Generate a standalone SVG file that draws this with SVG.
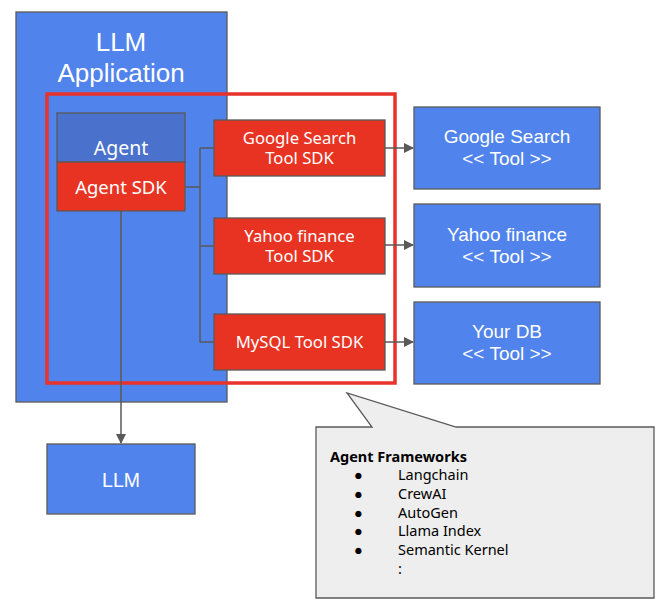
<svg xmlns="http://www.w3.org/2000/svg" width="666" height="614" viewBox="0 0 666 614">
<defs>
<style>
.blue{fill:#5083eb;stroke:#595959;stroke-width:1.3}
.agent{fill:#4a72cd;stroke:#595959;stroke-width:1.3}
.red{fill:#e83323;stroke:#595959;stroke-width:1.3}
.wa{font-family:"Liberation Sans",Arial,sans-serif;fill:#ffffff;text-anchor:middle}
.wn{font-family:"Noto Sans","Open Sans",sans-serif;fill:#ffffff;text-anchor:middle}
.conn{fill:none;stroke:#595959;stroke-width:1.5}
.note{font-family:"Noto Sans","Open Sans",sans-serif;fill:#000000;font-size:14.5px}
</style>
<marker id="arr2" viewBox="0 0 10 10" refX="9" refY="5" markerWidth="10" markerHeight="10" markerUnits="userSpaceOnUse" orient="auto">
<path d="M0,0 L10,5 L0,10 z" fill="#595959"/>
</marker>
</defs>
<rect width="666" height="614" fill="#ffffff"/>
<g id="llm-application">
<rect class="blue" x="16" y="12" width="211" height="390"/>
<text class="wa" x="121" y="51" font-size="26">LLM</text>
<text class="wa" x="121" y="82" font-size="26">Application</text>
</g>
<g id="agent">
<rect class="agent" x="57" y="113" width="128" height="49"/>
<text class="wn" x="121" y="155" font-size="19.5">Agent</text>
</g>
<g id="agent-sdk">
<rect class="red" x="57" y="162" width="128" height="49"/>
<text class="wn" x="121" y="194" font-size="18.5">Agent SDK</text>
</g>
<g id="google-sdk">
<rect class="red" x="214" y="120" width="171" height="56"/>
<text class="wn" x="299.5" y="144" font-size="16.7">Google Search</text>
<text class="wn" x="299.5" y="164" font-size="16.7">Tool SDK</text>
</g>
<g id="yahoo-sdk">
<rect class="red" x="214" y="218" width="171" height="56"/>
<text class="wn" x="299.5" y="242" font-size="16.7">Yahoo finance</text>
<text class="wn" x="299.5" y="262" font-size="16.7">Tool SDK</text>
</g>
<g id="mysql-sdk">
<rect class="red" x="214" y="314" width="171" height="56"/>
<text class="wn" x="299.5" y="348" font-size="16.7">MySQL Tool SDK</text>
</g>
<g id="agent-frameworks-frame">
<rect x="47" y="94" width="348" height="289" fill="none" stroke="#e8322a" stroke-width="3.5"/>
</g>
<g id="google-tool">
<rect class="blue" x="414" y="107" width="186" height="82"/>
<text class="wa" x="507" y="143" font-size="19">Google Search</text>
<text class="wa" x="507" y="165" font-size="19">&lt;&lt; Tool &gt;&gt;</text>
</g>
<g id="yahoo-tool">
<rect class="blue" x="414" y="204" width="186" height="83"/>
<text class="wa" x="507" y="241" font-size="19">Yahoo finance</text>
<text class="wa" x="507" y="263" font-size="19">&lt;&lt; Tool &gt;&gt;</text>
</g>
<g id="db-tool">
<rect class="blue" x="414" y="302" width="186" height="82"/>
<text class="wa" x="507" y="338" font-size="19">Your DB</text>
<text class="wa" x="507" y="360" font-size="19">&lt;&lt; Tool &gt;&gt;</text>
</g>
<g id="llm">
<rect class="blue" x="47" y="444" width="148" height="70"/>
<text class="wa" x="121" y="487" font-size="19.5">LLM</text>
</g>
<g id="callout">
<path d="M316,427 L372,427 L347,393 L456,427 L654,427 L654,598 L316,598 Z" fill="#eeeeee" stroke="#595959" stroke-width="1.3"/>
<text class="note" x="330" y="462" font-weight="bold">Agent Frameworks</text>
<g class="note">
<text x="354" y="480">●</text><text x="398" y="480">Langchain</text>
<text x="354" y="499">●</text><text x="398" y="499">CrewAI</text>
<text x="354" y="518">●</text><text x="398" y="518">AutoGen</text>
<text x="354" y="536">●</text><text x="398" y="536">Llama Index</text>
<text x="354" y="555">●</text><text x="398" y="555">Semantic Kernel</text>
<text x="398" y="574">:</text>
</g>
</g>
<g id="connectors">
<path class="conn" d="M185,187 H200 M200,148 V342 M200,148 H214 M200,246 H214 M200,342 H214"/>
<path class="conn" d="M385,148 H413" marker-end="url(#arr2)"/>
<path class="conn" d="M385,245 H413" marker-end="url(#arr2)"/>
<path class="conn" d="M385,342 H413" marker-end="url(#arr2)"/>
<path class="conn" d="M121,211 V443" marker-end="url(#arr2)"/>
</g>
</svg>
